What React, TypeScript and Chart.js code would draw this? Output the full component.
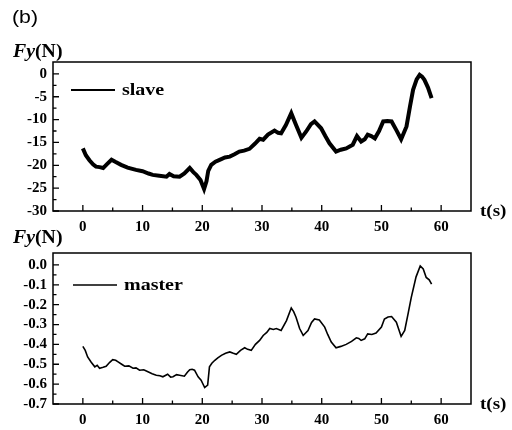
import React, { useEffect, useRef } from "react";
import { Chart, registerables } from "chart.js";

Chart.register(...registerables);

// ---- data ----
const slaveT = [
  0, 0.5, 1.1, 1.7, 2.2, 2.8, 3.4, 4.0, 4.8, 5.5, 6.4, 7.5, 8.9, 10.0, 11.0, 11.7, 12.8, 14.0, 14.5, 15.2,
  16.2, 17.0, 17.9, 18.5, 19.0, 19.7, 20.3, 20.7, 21.0, 21.5, 22.2, 22.9, 23.8, 24.6, 25.4, 26.2, 27.0, 27.9,
  28.8, 29.6, 30.2, 31.0, 32.1, 32.7, 33.2, 34.0, 34.9, 35.7, 36.6, 37.4, 38.2, 38.8, 39.9, 40.6, 41.3, 42.4,
  43.2, 44.1, 45.2, 45.9, 46.6, 47.2, 47.7, 48.3, 48.9, 49.6, 50.3, 51.0, 51.7, 52.5, 53.3, 54.2, 54.8, 55.3,
  55.9, 56.4, 56.8, 57.2, 57.8, 58.4,
];
const slaveFy = [
  -16.3, -17.8, -18.9, -19.8, -20.3, -20.4, -20.6, -19.8, -18.8, -19.3, -19.9, -20.5, -21.0, -21.3, -21.8, -22.1,
  -22.3, -22.5, -21.9, -22.4, -22.5, -21.8, -20.6, -21.5, -22.1, -23.2, -25.2, -23.5, -21.2, -19.9, -19.2, -18.8,
  -18.3, -18.1, -17.6, -17.0, -16.8, -16.4, -15.3, -14.2, -14.4, -13.3, -12.4, -12.9, -13.0, -11.2, -8.6, -11.2,
  -14.0, -12.6, -11.0, -10.4, -11.9, -13.6, -15.2, -17.0, -16.6, -16.3, -15.5, -13.6, -14.8, -14.3, -13.3, -13.6,
  -14.1, -12.5, -10.4, -10.3, -10.4, -12.3, -14.3, -11.5, -7.0, -3.5, -1.2, -0.2, -0.6, -1.3, -3.0, -5.3,
];
const masterT = [
  0, 0.4, 0.8, 1.4, 2.0, 2.4, 2.8, 3.4, 3.9, 4.5, 5.0, 5.5, 5.9, 6.5, 7.0, 7.7, 8.4, 8.9, 9.5, 10.2, 10.9, 11.6,
  12.3, 12.9, 13.4, 14.2, 14.7, 15.1, 15.7, 16.2, 17.0, 17.5, 17.9, 18.3, 18.7, 19.3, 19.8, 20.4, 20.9, 21.2,
  21.6, 22.1, 22.6, 23.2, 23.9, 24.6, 25.2, 25.7, 26.4, 27.1, 27.6, 28.2, 28.9, 29.6, 30.2, 30.8, 31.3, 31.9,
  32.4, 33.2, 34.1, 34.9, 35.3, 35.7, 36.3, 36.9, 37.7, 38.3, 38.8, 39.6, 40.5, 41.0, 41.6, 42.4, 43.2, 44.1,
  45.0, 45.8, 46.2, 46.6, 47.2, 47.7, 48.4, 49.1, 50.0, 50.5, 51.1, 51.7, 52.5, 53.3, 53.9, 54.5, 55.0, 55.8,
  56.5, 57.0, 57.5, 58.0, 58.4,
];
const masterFy = [
  -0.41, -0.43, -0.463, -0.49, -0.513, -0.505, -0.52, -0.515, -0.51, -0.49, -0.477, -0.48, -0.488, -0.5, -0.51,
  -0.508, -0.52, -0.518, -0.53, -0.528, -0.538, -0.548, -0.555, -0.558, -0.563, -0.55, -0.565, -0.563, -0.552,
  -0.555, -0.56, -0.54, -0.527, -0.525, -0.53, -0.563, -0.58, -0.617, -0.605, -0.513, -0.495, -0.48, -0.468,
  -0.455, -0.445, -0.438, -0.445, -0.45, -0.43, -0.417, -0.425, -0.43, -0.4, -0.38, -0.355, -0.34, -0.32, -0.325,
  -0.32, -0.33, -0.28, -0.217, -0.235, -0.263, -0.32, -0.355, -0.33, -0.29, -0.272, -0.277, -0.313, -0.35,
  -0.388, -0.417, -0.41, -0.4, -0.385, -0.367, -0.37, -0.38, -0.372, -0.347, -0.35, -0.343, -0.313, -0.272,
  -0.262, -0.26, -0.288, -0.36, -0.33, -0.24, -0.163, -0.06, -0.005, -0.02, -0.063, -0.075, -0.097,
];
const xTicks = [0, 10, 20, 30, 40, 50, 60];
const slaveTicks = [0, -5, -10, -15, -20, -25, -30];
const masterTicks = [0, -0.1, -0.2, -0.3, -0.4, -0.5, -0.6, -0.7];

const FONT = "'Liberation Serif', 'Times New Roman', serif";

const frameTicks = {
  id: "frameTicks",
  afterDraw(chart: any) {
    const { ctx, chartArea: a, scales } = chart;
    const xs = scales.x;
    const ys = scales.y;
    ctx.save();
    ctx.strokeStyle = "#000";
    ctx.lineWidth = 1.5;
    ctx.strokeRect(a.left, a.top, a.right - a.left, a.bottom - a.top);
    ctx.lineWidth = 1.3;
    ctx.beginPath();
    const xv = xs.ticks.map((t: any) => t.value);
    xv.forEach((v: number, i: number) => {
      const px = xs.getPixelForValue(v);
      ctx.moveTo(px, a.bottom);
      ctx.lineTo(px, a.bottom - 6);
      if (i < xv.length - 1) {
        const m = xs.getPixelForValue((v + xv[i + 1]) / 2);
        ctx.moveTo(m, a.bottom);
        ctx.lineTo(m, a.bottom - 3.5);
      }
    });
    const yv = ys.ticks.map((t: any) => t.value);
    yv.forEach((v: number, i: number) => {
      const py = ys.getPixelForValue(v);
      ctx.moveTo(a.left, py);
      ctx.lineTo(a.left + 6, py);
      if (i < yv.length - 1) {
        const m = ys.getPixelForValue((v + yv[i + 1]) / 2);
        ctx.moveTo(a.left, m);
        ctx.lineTo(a.left + 3.5, m);
      }
    });
    ctx.stroke();
    ctx.restore();
  },
};

const innerLegend = {
  id: "innerLegend",
  afterDatasetsDraw(chart: any, _args: any, opts: any) {
    const { ctx, chartArea: a } = chart;
    const ds = chart.data.datasets[0];
    const x0 = a.left + opts.dx;
    const y = a.top + opts.dy;
    ctx.save();
    ctx.strokeStyle = "#000";
    ctx.lineWidth = opts.lw;
    ctx.beginPath();
    ctx.moveTo(x0, y);
    ctx.lineTo(x0 + 44, y);
    ctx.stroke();
    ctx.fillStyle = "#000";
    ctx.font = `bold 16px ${FONT}`;
    ctx.textBaseline = "middle";
    ctx.translate(x0 + 51, y + 1);
    ctx.scale(1.25, 1);
    ctx.fillText(ds.label, 0, 0);
    ctx.restore();
  },
};

function makeConfig(
  label: string,
  ts: number[],
  vs: number[],
  yMin: number,
  yMax: number,
  yTicks: number[],
  fmt: (v: number) => string,
  padTop: number,
  xHeight: number,
  lineW: number,
  legend: { dx: number; dy: number; lw: number }
): any {
  return {
    type: "line",
    data: {
      datasets: [
        {
          label,
          data: ts.map((t, i) => ({ x: t, y: vs[i] })),
          borderColor: "#000",
          borderWidth: lineW,
          pointRadius: 0,
          tension: 0,
          fill: false,
        },
      ],
    },
    options: {
      responsive: false,
      animation: false,
      devicePixelRatio: 1,
      layout: { padding: { top: padTop, right: 41, left: 0, bottom: 0 } },
      plugins: {
        legend: { display: false },
        tooltip: { enabled: false },
        innerLegend: legend,
      },
      scales: {
        x: {
          type: "linear",
          min: -5,
          max: 65,
          afterBuildTicks: (s: any) => {
            s.ticks = xTicks.map((v) => ({ value: v }));
          },
          afterFit: (s: any) => {
            s.height = xHeight;
          },
          grid: { display: false, drawTicks: false },
          border: { display: false },
          ticks: {
            color: "#000",
            padding: 7,
            maxRotation: 0,
            autoSkip: false,
            font: { family: FONT, weight: "bold", size: 15 },
            callback: (v: any) => String(v),
          },
        },
        y: {
          type: "linear",
          min: yMin,
          max: yMax,
          afterBuildTicks: (s: any) => {
            s.ticks = yTicks.map((v) => ({ value: v }));
          },
          afterFit: (s: any) => {
            s.width = 53;
          },
          grid: { display: false, drawTicks: false },
          border: { display: false },
          ticks: {
            color: "#000",
            padding: 6,
            autoSkip: false,
            font: { family: FONT, weight: "bold", size: 15 },
            callback: (v: any) => fmt(Number(v)),
          },
        },
      },
    },
    plugins: [frameTicks, innerLegend],
  };
}

function ChartCanvas({ config, top, height }: { config: () => any; top: number; height: number }) {
  const ref = useRef<HTMLCanvasElement | null>(null);
  useEffect(() => {
    if (!ref.current) return;
    const chart = new Chart(ref.current, config());
    return () => chart.destroy();
  }, []);
  return (
    <canvas
      ref={ref}
      width={512}
      height={height}
      style={{ position: "absolute", left: 0, top, width: 512, height }}
    />
  );
}

const textBase: React.CSSProperties = {
  position: "absolute",
  lineHeight: 1,
  whiteSpace: "nowrap",
  color: "#000",
  transformOrigin: "left top",
};

function FyLabel({ top }: { top: number }) {
  return (
    <div style={{ ...textBase, left: 13, top, fontFamily: FONT, fontWeight: "bold", fontSize: 18, transform: "scaleX(1.1)" }}>
      <i>Fy</i>(N)
    </div>
  );
}

function TLabel({ top }: { top: number }) {
  return (
    <div style={{ ...textBase, left: 480, top, fontFamily: FONT, fontWeight: "bold", fontSize: 17, transform: "scaleX(1.12)" }}>
      t(s)
    </div>
  );
}

export default function App() {
  return (
    <div
      style={{
        position: "fixed",
        left: 0,
        top: 0,
        width: 512,
        height: 430,
        background: "#fff",
        overflow: "hidden",
      }}
    >
      <ChartCanvas
        top={0}
        height={245}
        config={() =>
          makeConfig("slave", slaveT, slaveFy, -30, 2.6, slaveTicks, (v) => String(v), 62, 34, 4, {
            dx: 18,
            dy: 28,
            lw: 2.2,
          })
        }
      />
      <ChartCanvas
        top={215}
        height={215}
        config={() =>
          makeConfig("master", masterT, masterFy, -0.7, 0.06, masterTicks, (v) => v.toFixed(1), 38, 26, 1.6, {
            dx: 20,
            dy: 32,
            lw: 1.6,
          })
        }
      />
      <div style={{ ...textBase, left: 12, top: 7, fontFamily: "'Liberation Sans', Arial, sans-serif", fontSize: 19, transform: "scaleX(1.12)" }}>
        (b)
      </div>
      <FyLabel top={41.6} />
      <FyLabel top={228} />
      <TLabel top={202} />
      <TLabel top={395} />
    </div>
  );
}
